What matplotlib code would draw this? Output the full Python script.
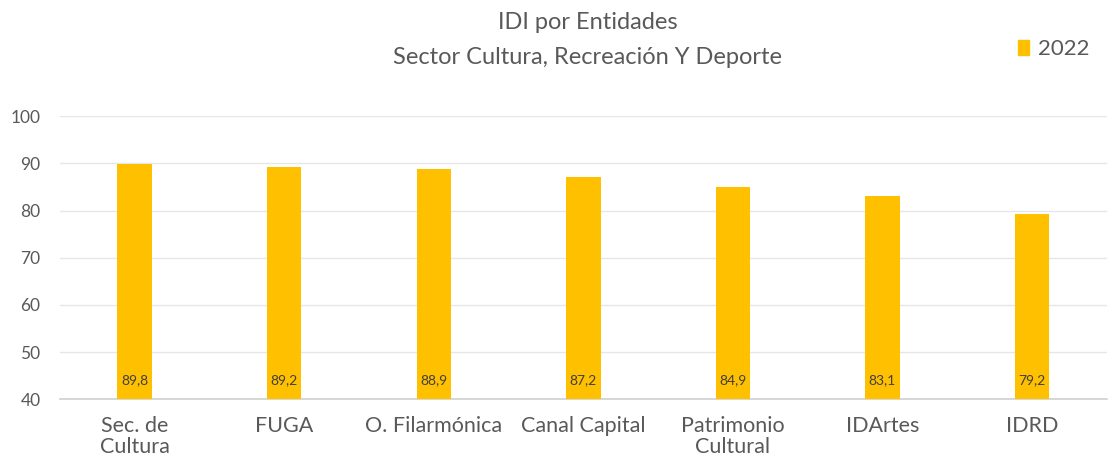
import matplotlib.pyplot as plt
from matplotlib.patches import Patch

categories = ["Sec. de\nCultura", "FUGA", "O. Filarmónica", "Canal Capital",
              "Patrimonio\nCultural", "IDArtes", "IDRD"]
values_2022 = [89.8, 89.2, 88.9, 87.2, 84.9, 83.1, 79.2]
y_ticks = [40, 50, 60, 70, 80, 90, 100]

BAR_COLOR = "#FFC000"
TEXT_COLOR = "#595959"

plt.rcParams["font.family"] = ["Lato", "DejaVu Sans"]

fig = plt.figure(figsize=(11.09, 4.61), dpi=100)
ax = fig.add_axes([0.054, 0.134, 0.944, 0.614])

x = range(len(categories))
ax.bar(x, values_2022, width=0.23, color=BAR_COLOR, zorder=3)

# data labels sit near the bottom of each bar
for xi, v in zip(x, values_2022):
    ax.text(xi, 44, f"{v:.1f}".replace(".", ","), ha="center", va="center",
            fontsize=10, color="#404040", zorder=4)

ax.set_ylim(40, 100)
ax.set_xlim(-0.5, len(categories) - 0.5)
ax.set_yticks(y_ticks)
ax.set_xticks(list(x))
ax.set_xticklabels(categories, fontsize=15.5, color=TEXT_COLOR, linespacing=1.1)
ax.tick_params(axis="y", labelsize=12.5, labelcolor=TEXT_COLOR, length=0, pad=14)
ax.tick_params(axis="x", length=0, pad=12)
ax.grid(axis="y", color="#E6E6E6", linewidth=1, zorder=0)
for side in ["top", "right", "left"]:
    ax.spines[side].set_visible(False)
ax.spines["bottom"].set_color("#D0D0D0")
ax.spines["bottom"].set_linewidth(1.2)

fig.text(0.53, 0.952, "IDI por Entidades", ha="center", va="center",
         fontsize=17, color=TEXT_COLOR)
fig.text(0.53, 0.876, "Sector Cultura, Recreación Y Deporte", ha="center",
         va="center", fontsize=17, color=TEXT_COLOR)

fig.legend(handles=[Patch(color=BAR_COLOR)], labels=["2022"],
           loc="center", bbox_to_anchor=(0.95, 0.893), frameon=False,
           fontsize=16, handlelength=0.5, handleheight=0.7, handletextpad=0.4,
           labelcolor=TEXT_COLOR)

fig.savefig("out.png", dpi=100)
